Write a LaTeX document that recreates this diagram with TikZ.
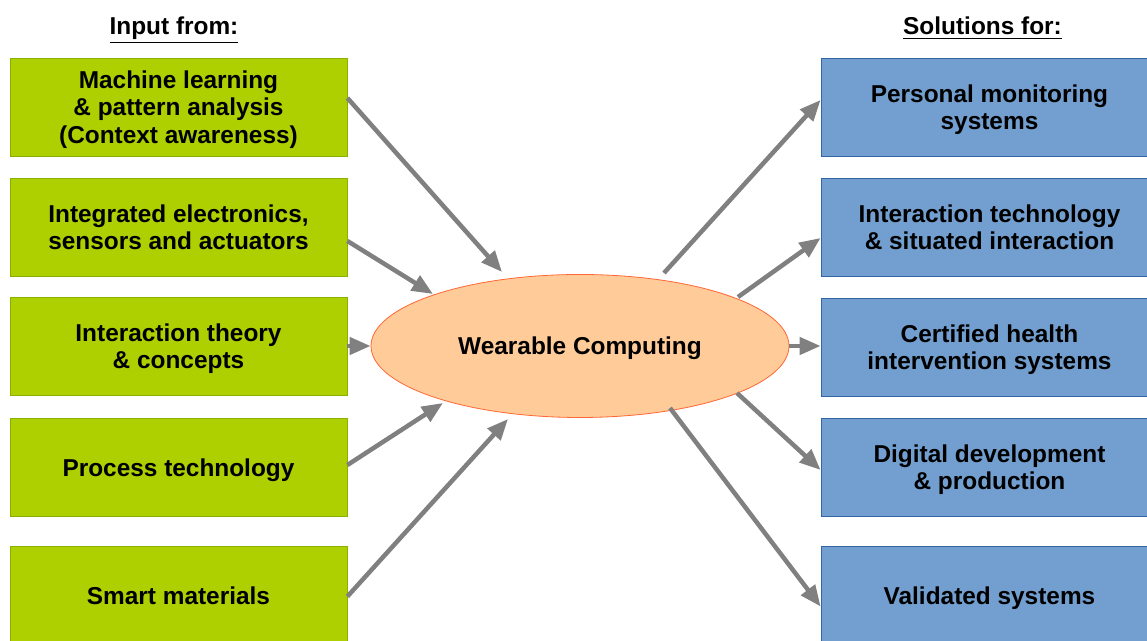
\documentclass[tikz,border=0pt]{standalone}
\usepackage{fontspec}
\setmainfont{Liberation Sans}
\usetikzlibrary{arrows.meta,calc,shapes.geometric}
\definecolor{ingreen}{HTML}{AECF00}
\definecolor{inborder}{HTML}{8AB000}
\definecolor{outblue}{HTML}{729FCF}
\definecolor{outborder}{HTML}{3465A4}
\definecolor{wcfill}{HTML}{FFCC99}
\definecolor{wcborder}{HTML}{FF6633}
\definecolor{flowgray}{HTML}{808080}

\begin{document}
\begin{tikzpicture}[x=0.5pt,y=0.5pt]
	\tikzstyle{every node}=[font=\bfseries\fontsize{12.2}{13.6}\selectfont, align=center, text depth=0pt]
	\tikzstyle{inbox}=[draw=inborder, fill=ingreen, minimum width=168.5pt, minimum height=49pt, inner sep=0pt]
	\tikzstyle{outbox}=[draw=outborder, fill=outblue, minimum width=168.5pt, minimum height=49pt, inner sep=0pt]
	\tikzstyle{flow}=[draw=flowgray, line width=2.25pt, -{Triangle[length=10.5pt,width=8.5pt]}]
	
	\useasboundingbox (0,0) rectangle (1147,641);
	\clip (0,0) rectangle (1147,641);
	
	%Ueberschriften
	\node[anchor=base] (inhead) at (174,606) {\underline{Input from:}};
	\node[anchor=base] (solhead) at (982.5,606) {\underline{Solutions for:}};
	
	%Eingaenge links
	\node[inbox] (ml) at (178.5,534) {Machine learning\\ \& pattern analysis\\ (Context awareness)};
	\node[inbox] (ie) at (178.5,413.5) {Integrated electronics,\\ sensors and actuators};
	\node[inbox] (it) at (178.5,295) {Interaction theory\\ \& concepts};
	\node[inbox] (pt) at (178.5,173.5) {Process technology};
	\node[inbox] (sm) at (178.5,45.5) {Smart materials};
	
	%Loesungen rechts
	\node[outbox] (pm) at (989.5,534) {Personal monitoring\\ systems};
	\node[outbox] (itech) at (989.5,413.5) {Interaction technology\\ \& situated interaction};
	\node[outbox] (ch) at (989.5,293.5) {Certified health\\ intervention systems};
	\node[outbox] (dd) at (989.5,173.5) {Digital development\\ \& production};
	\node[outbox] (vs) at (989.5,45.5) {Validated systems};
	
	%Mitte
	\node[ellipse, draw=wcborder, fill=wcfill, minimum width=209pt, minimum height=71.5pt, inner sep=0pt] (wc) at (580,295) {Wearable Computing};
	
	%Pfeile rein
	\draw[flow] ($(ml.east)+(0,9)$) -- ($(wc)+(-78,74)$);
	\draw[flow] ($(ie.east)+(0,-13.5)$) -- ($(wc)+(-147,52)$);
	\draw[flow] (it.east) -- (wc.west);
	\draw[flow] ($(pt.east)+(0,2.5)$) -- ($(wc)+(-137,-57)$);
	\draw[flow] ($(sm.east)+(0,-1)$) -- ($(wc)+(-72,-73)$);
	
	%Pfeile raus
	\draw[flow] ($(wc)+(84,73)$) -- ($(pm.west)+(0,7)$);
	\draw[flow] ($(wc)+(158,49)$) -- ($(itech.west)+(0,-10.5)$);
	\draw[flow] (wc.east) -- (wc.east -| ch.west);
	\draw[flow] ($(wc)+(157,-47)$) -- ($(dd.west)+(0,-2.5)$);
	\draw[flow] ($(wc)+(90,-62)$) -- ($(vs.west)+(0,-11)$);
\end{tikzpicture}
\end{document}
